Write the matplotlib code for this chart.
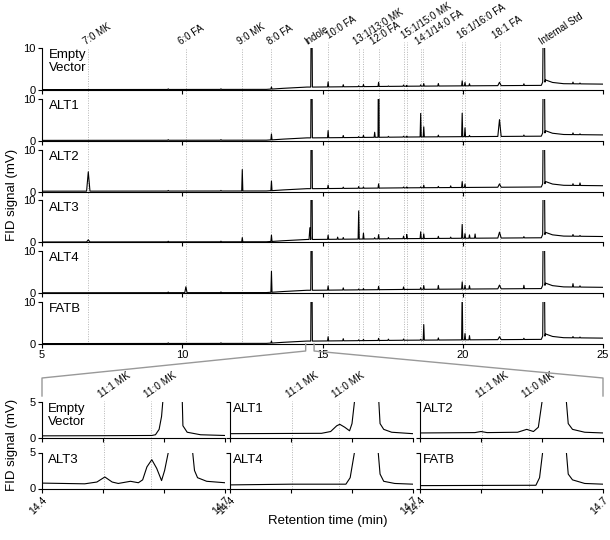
import numpy as np
import matplotlib.pyplot as plt
from matplotlib.transforms import blended_transform_factory
from matplotlib.lines import Line2D

plt.rcParams['font.family'] = ['Liberation Sans', 'DejaVu Sans']

# samples (top to bottom in the full chromatograms)
samples = ['Empty\nVector', 'ALT1', 'ALT2', 'ALT3', 'ALT4', 'FATB']

# peaks (retention time in min, half width in min)
peak_rt = [6.65, 9.50, 10.13, 11.38, 12.14, 13.18, 14.55, 14.61, 15.20, 15.54, 15.74,
           16.29, 16.46, 16.86, 17.00, 17.35, 17.89, 18.00, 18.50, 18.61, 19.13, 19.57,
           19.98, 20.08, 20.24, 20.44, 21.31, 22.18, 22.89, 23.93, 24.18]
peak_w = [0.06, 0.02, 0.04, 0.02, 0.02, 0.02, 0.03, 0.03, 0.02, 0.02, 0.02,
          0.02, 0.02, 0.02, 0.02, 0.02, 0.02, 0.02, 0.02, 0.02, 0.02, 0.02,
          0.02, 0.02, 0.02, 0.02, 0.06, 0.02, 0.04, 0.02, 0.02]

# peak heights (mV) per sample, peaks above 10 run off the panel
h_ev = [0, 0.15, 0, 0.15, 0, 0.5, 0, 30, 1.2, 0, 0.5,
        0.2, 0.5, 0, 1.0, 0.1, 0.3, 0.2, 0.3, 0.6, 0.6, 0,
        1.2, 0.8, 0.5, 0, 0.8, 0.4, 30, 0.4, 0.2]
h_alt1 = [0, 0.15, 0, 0.15, 0, 1.4, 0, 30, 1.7, 0, 0.5,
          0.2, 0.5, 1.2, 30, 0.2, 0.2, 0.2, 5.6, 2.4, 0.4, 0,
          5.6, 2.1, 0.3, 0, 4.0, 0.3, 30, 0.4, 0.2]
h_alt2 = [4.6, 0.15, 0, 0.15, 5.1, 2.3, 0, 30, 0.8, 0, 0.3,
          0.4, 0.3, 0, 1.0, 0, 0.2, 0.2, 0.2, 0.6, 0.3, 0.4,
          1.4, 0.8, 0, 0, 0.8, 0, 30, 0.4, 0.6]
h_alt3 = [0.5, 0.15, 0, 0.15, 1.0, 1.5, 2.8, 30, 1.0, 0.5, 0.4,
          6.7, 1.4, 0.3, 1.0, 0.3, 0.6, 1.0, 1.6, 1.1, 0.5, 0.3,
          3.3, 1.1, 0.8, 1.0, 1.4, 0.3, 30, 0.4, 0.2]
h_alt4 = [0, 0.15, 1.4, 0.15, 0, 5.0, 0, 30, 1.0, 0, 0.5,
          0.2, 0.3, 0, 0.8, 0, 0.6, 0, 0.4, 0.9, 0.9, 0,
          1.7, 0.9, 0.8, 0, 0.9, 0.8, 30, 0.8, 0.3]
h_fatb = [0, 0.15, 0, 0.15, 0, 0.5, 0, 30, 1.0, 0, 0.5,
          0.2, 0.3, 0, 0.5, 0.3, 0.3, 0, 0.2, 3.7, 0.5, 0,
          12, 1.5, 1.0, 0, 0.7, 0.3, 30, 0.3, 0.2]
heights = [h_ev, h_alt1, h_alt2, h_alt3, h_alt4, h_fatb]

# baseline drift shared by all runs
base_t = [5.0, 13.0, 13.6, 14.45, 14.7, 18.0, 22.8, 22.95, 23.2, 23.6, 25.0]
base_v = [0.1, 0.15, 0.4, 0.7, 0.7, 0.9, 1.1, 2.4, 1.8, 1.5, 1.4]

# identified compounds (dotted guide lines) and their labels
guide_rt = [6.64, 10.12, 12.14, 13.18, 15.18, 16.29, 16.46, 17.0, 17.89, 18.0,
            18.5, 18.6, 19.98, 20.08, 21.32]
guide_high = [0, 0, 0, 0, 1, 0, 0, 0, 1, 1, 0, 0, 1, 1, 1]
labels = ['7:0 MK', '6:0 FA', '9:0 MK', '8:0 FA', 'Indole', '10:0 FA', '13:1/13:0 MK',
          '12:0 FA', '15:1/15:0 MK', '14:1/14:0 FA', '16:1/16:0 FA', '18:1 FA', 'Internal Std']
label_rt = [6.6, 10.0, 12.1, 13.15, 14.5, 15.28, 16.25, 16.85, 17.95, 18.45, 19.95, 21.2, 22.85]
label_high = [0, 0, 0, 0, 0, 1, 0, 0, 1, 0, 1, 1, 0]

# zoomed region 14.4-14.7 min
z_ev_t = [14.40, 14.50, 14.58, 14.586, 14.592, 14.596, 14.598, 14.605, 14.615, 14.625,
          14.630, 14.631, 14.638, 14.66, 14.70]
z_ev_v = [0.3, 0.32, 0.35, 0.45, 1.2, 3.0, 5.0, 12, 40, 12, 5.0, 1.7, 0.8, 0.45, 0.35]
z_alt1_t = [14.40, 14.55, 14.565, 14.575, 14.58, 14.588, 14.596, 14.600, 14.604, 14.62,
            14.644, 14.646, 14.652, 14.665, 14.70]
z_alt1_v = [0.6, 0.65, 0.9, 1.7, 1.9, 1.5, 1.0, 2.0, 5.0, 40, 5.0, 2.0, 1.2, 0.8, 0.6]
z_alt2_t = [14.40, 14.49, 14.50, 14.51, 14.56, 14.575, 14.586, 14.594, 14.600, 14.62,
            14.640, 14.643, 14.65, 14.67, 14.70]
z_alt2_v = [0.7, 0.75, 0.9, 0.75, 0.8, 1.2, 0.9, 1.5, 5.0, 40, 5.0, 2.0, 1.2, 0.8, 0.7]
z_alt3_t = [14.40, 14.47, 14.49, 14.503, 14.515, 14.525, 14.545, 14.558, 14.565, 14.572,
            14.580, 14.588, 14.596, 14.601, 14.607, 14.625, 14.647, 14.650, 14.655,
            14.67, 14.70]
z_alt3_v = [0.75, 0.65, 0.9, 1.6, 0.9, 0.7, 1.0, 0.8, 1.2, 3.0,
            4.0, 2.8, 1.1, 2.5, 5.0, 40, 5.0, 2.5, 1.5, 1.0, 0.8]
z_alt4_t = [14.40, 14.50, 14.59, 14.597, 14.604, 14.62, 14.643, 14.646, 14.652, 14.67, 14.70]
z_alt4_v = [0.5, 0.6, 0.6, 1.5, 5.0, 40, 5.0, 2.0, 1.0, 0.7, 0.6]
z_fatb_t = [14.40, 14.59, 14.596, 14.601, 14.62, 14.640, 14.643, 14.65, 14.67, 14.70]
z_fatb_v = [0.4, 0.45, 1.5, 5.0, 40, 5.0, 2.0, 1.2, 0.7, 0.6]
zoom_order = ['Empty\nVector', 'ALT1', 'ALT2', 'ALT3', 'ALT4', 'FATB']
zoom_t = [z_ev_t, z_alt1_t, z_alt2_t, z_alt3_t, z_alt4_t, z_fatb_t]
zoom_v = [z_ev_v, z_alt1_v, z_alt2_v, z_alt3_v, z_alt4_v, z_fatb_v]
zoom_guides = [14.502, 14.578]
zoom_labels = ['11:1 MK', '11:0 MK']


def trace(hs):
    # baseline vertices plus a spike for every peak
    b_at = np.interp(peak_rt, base_t, base_v)
    pts = list(zip(base_t, base_v))
    for rt, w, h, b in zip(peak_rt, peak_w, hs, b_at):
        if h > 0:
            pts += [(rt - w, b), (rt, b + h), (rt + w, b)]
    pts.sort()
    x, y = zip(*pts)
    return x, y


W, H = 610, 540
def box(l, t, w, h):
    return [l / W, 1 - (t + h) / H, w / W, h / H]


def style(ax):
    ax.patch.set_visible(False)
    for s in ['top', 'right']:
        ax.spines[s].set_visible(False)
    for s in ['left', 'bottom']:
        ax.spines[s].set_linewidth(0.8)
    ax.tick_params(direction='out', length=3, width=0.8, labelsize=8, pad=1.5)


fig = plt.figure(figsize=(6.1, 5.4), dpi=100)
guide_col = '#b5b5b5'
lab_size = 7
lab_rot = 33

# full chromatograms
axes = []
for i, (name, hs) in enumerate(zip(samples, heights)):
    ax = fig.add_axes(box(42, 48 + 50.8 * i, 561, 42))
    style(ax)
    x, y = trace(hs)
    ax.plot(x, y, color='black', lw=0.8)
    ax.set_xlim(5, 25)
    ax.set_ylim(0, 10)
    ax.set_yticks([0, 10])
    ax.set_xticks([5, 10, 15, 20, 25])
    if i < 5:
        ax.set_xticklabels([])
    ax.text(0.012, 0.97, name, transform=ax.transAxes, ha='left', va='top',
            fontsize=9.5, linespacing=1.05)
    axes.append(ax)

top_y = 1 - 48 / H
high_y = 1 - 42 / H
bot_y = axes[-1].get_position().y0
blend = blended_transform_factory(axes[0].transData, fig.transFigure)
for rt, hi in zip(guide_rt, guide_high):
    fig.add_artist(Line2D([rt, rt], [bot_y, high_y if hi else top_y], transform=blend,
                          color=guide_col, lw=0.7, ls=(0, (1, 1.5)), zorder=-1))
for s, rt, hi in zip(labels, label_rt, label_high):
    axes[0].text(rt, (high_y if hi else top_y) + 0.002, s, transform=blend, rotation=lab_rot,
                 rotation_mode='anchor', ha='left', va='bottom', fontsize=lab_size,
                 clip_on=False)

fig.text(12 / W, 1 - 195 / H, 'FID signal (mV)', rotation=90, ha='center', va='center',
         fontsize=9.5)

# zoomed panels
zlefts = [42, 230, 420]
ztops = [402, 452.5]
zaxes = []
for k, name in enumerate(zoom_order):
    r, c = divmod(k, 3)
    ax = fig.add_axes(box(zlefts[c], ztops[r], 183, 36))
    style(ax)
    ax.plot(zoom_t[k], zoom_v[k], color='black', lw=0.8)
    ax.set_xlim(14.4, 14.7)
    ax.set_ylim(0, 5)
    ax.set_yticks([0, 5])
    ax.set_xticks([14.4, 14.5, 14.6, 14.7])
    if c > 0:
        ax.set_yticklabels([])
    if r == 0:
        ax.set_xticklabels([])
    else:
        ax.set_xticklabels(['14.4', '', '', '14.7'], rotation=45, ha='right',
                           rotation_mode='anchor', fontsize=7.5)
    ax.text(0.03 if c == 0 else 0.015, 0.97, name, transform=ax.transAxes, ha='left',
            va='top', fontsize=9.5, linespacing=1.05)
    zaxes.append(ax)

ztop_y = 1 - 401 / H
zbot_y = zaxes[3].get_position().y0
for c in range(3):
    zb = blended_transform_factory(zaxes[c].transData, fig.transFigure)
    for rt, s in zip(zoom_guides, zoom_labels):
        fig.add_artist(Line2D([rt, rt], [zbot_y, ztop_y], transform=zb,
                              color=guide_col, lw=0.7, ls=(0, (1, 1.5)), zorder=-1))
        zaxes[c].text(rt - 0.004, ztop_y + 0.002, s, transform=zb, rotation=35,
                      rotation_mode='anchor', ha='left', va='bottom', fontsize=7.2,
                      clip_on=False)

fig.text(12 / W, 1 - 445 / H, 'FID signal (mV)', rotation=90, ha='center', va='center',
         fontsize=9.5)
fig.text(328 / W, 1 - 521 / H, 'Retention time (min)', ha='center', va='center',
         fontsize=9.5)

# bracket linking the 14.4-14.7 window to the zoomed panels
to_fig = fig.transFigure.inverted()
p0 = to_fig.transform(axes[-1].transData.transform((14.4, 0)))
p1 = to_fig.transform(axes[-1].transData.transform((14.7, 0)))
zl = zaxes[0].get_position().x0
zr = zaxes[2].get_position().x1
y_a = p0[1] - 7 / H
y_b = 1 - 378 / H
y_c = 1 - 396 / H
fig.add_artist(Line2D([p0[0], p0[0], zl, zl], [p0[1], y_a, y_b, y_c], color='#999999', lw=1))
fig.add_artist(Line2D([p1[0], p1[0], zr, zr], [p1[1], y_a, y_b, y_c], color='#999999', lw=1))

fig.savefig('out.png', dpi=100)
